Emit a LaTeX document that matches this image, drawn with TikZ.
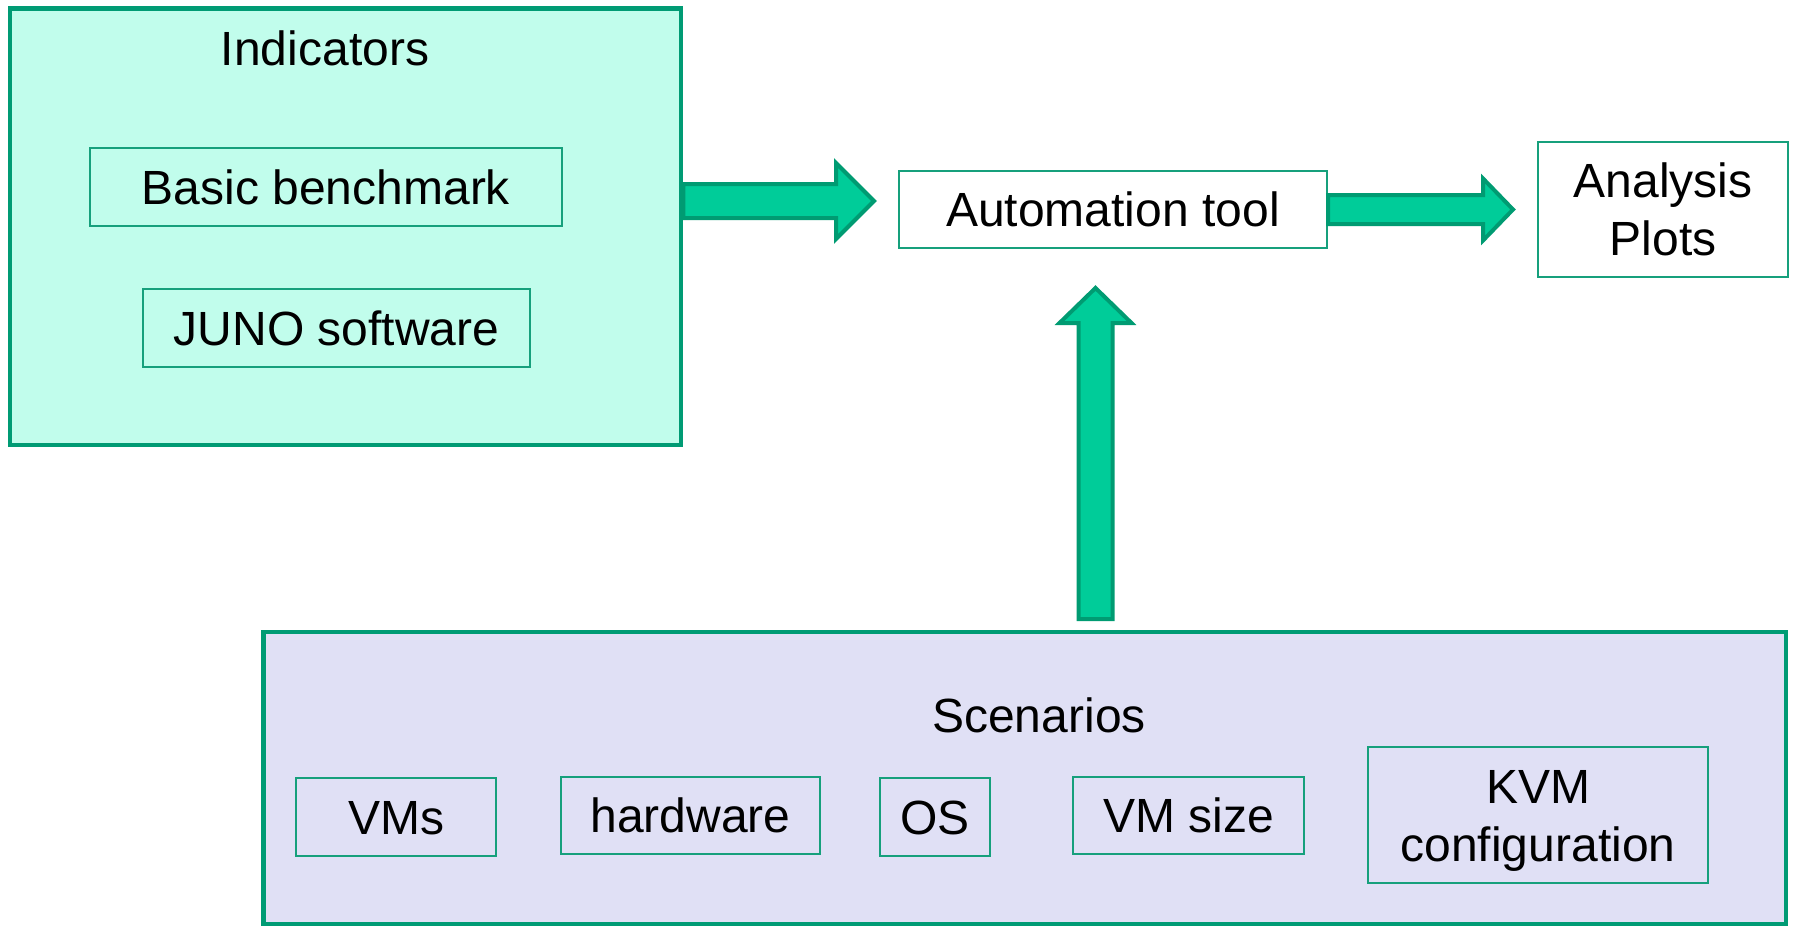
\documentclass[tikz,border=0pt]{standalone}
\usepackage{fontspec}
\setmainfont{Liberation Sans}
\usetikzlibrary{calc}

\definecolor{frameline}{HTML}{009B74}
\definecolor{itemline}{HTML}{16A07C}
\definecolor{indfill}{HTML}{C1FDEC}
\definecolor{scenfill}{HTML}{E0E0F5}
\definecolor{arrowfill}{HTML}{00CC99}
\definecolor{arrowline}{HTML}{009B72}

\tikzset{
  container/.style={draw=frameline, line width=2.25pt, inner sep=0pt},
  itembox/.style={draw=itemline, line width=1pt, inner sep=0pt, align=center,
    font=\fontsize{24}{29}\selectfont, text height=17.2pt, text depth=0pt},
  twolines/.style={text height=46.2pt, text depth=0pt},
  title/.style={inner sep=0pt, font=\fontsize{24}{29}\selectfont,
    text height=17.2pt, text depth=0pt},
  fatarrow/.style={draw=arrowline, fill=arrowfill, line width=2pt, line join=miter}
}

\begin{document}
\begin{tikzpicture}[x=0.5pt, y=-0.5pt]
\useasboundingbox (0,0) rectangle (1794,926);

% group frames
\node[container, fill=indfill, minimum width=335.5pt, minimum height=218.25pt]
  (ind) at (345.5,226.75) {};
\node[container, fill=scenfill, minimum width=761.25pt, minimum height=146.25pt]
  (scen) at (1024.75,778.25) {};

% group titles
\node[title] (indtitle) at (325,48) {Indicators};
\node[title] (scentitle) at (1039,715) {Scenarios};

% indicator items
\node[itembox, minimum width=236pt, minimum height=39pt] (bench) at (326,187) {Basic benchmark};
\node[itembox, minimum width=193.5pt, minimum height=39pt] (juno) at (336.5,328) {JUNO software};

% tool and output
\node[itembox, fill=white, minimum width=214pt, minimum height=38.5pt] (auto) at (1113,209.5) {Automation tool};
\node[itembox, twolines, fill=white, minimum width=125pt, minimum height=67.5pt] (plots) at (1663,209.5) {Analysis\\Plots};

% scenario items
\node[itembox, minimum width=100pt, minimum height=39pt] (vms) at (396,817) {VMs};
\node[itembox, minimum width=129.5pt, minimum height=38.5pt] (hw) at (690.5,815.5) {hardware};
\node[itembox, minimum width=55pt, minimum height=39pt] (os) at (935,817) {OS};
\node[itembox, minimum width=115.5pt, minimum height=38.5pt] (vmsize) at (1188.5,815.5) {VM size};
\node[itembox, twolines, minimum width=170pt, minimum height=68pt] (kvm) at (1538,815) {KVM\\configuration};

% block arrows
\coordinate (a1s) at (ind.east |- 0,201);
\coordinate (a1e) at (874,201);
\draw[fatarrow] ($(a1s)+(0,-17)$) -- ($(a1e)+(-38,-17)$) -- ($(a1e)+(-38,-38)$)
  -- (a1e) -- ($(a1e)+(-38,38)$) -- ($(a1e)+(-38,17)$) -- ($(a1s)+(0,17)$) -- cycle;

\coordinate (a2s) at (auto.east);
\coordinate (a2e) at (1513,209.5);
\draw[fatarrow] ($(a2s)+(0,-14.5)$) -- ($(a2e)+(-30,-14.5)$) -- ($(a2e)+(-30,-31)$)
  -- (a2e) -- ($(a2e)+(-30,31)$) -- ($(a2e)+(-30,14.5)$) -- ($(a2s)+(0,14.5)$) -- cycle;

\coordinate (a3s) at (1095.5,619);
\coordinate (a3e) at (1095.5,288);
\draw[fatarrow] ($(a3s)+(-17,0)$) -- ($(a3e)+(-17,35)$) -- ($(a3e)+(-36,35)$)
  -- (a3e) -- ($(a3e)+(36,35)$) -- ($(a3e)+(17,35)$) -- ($(a3s)+(17,0)$) -- cycle;
\end{tikzpicture}
\end{document}
